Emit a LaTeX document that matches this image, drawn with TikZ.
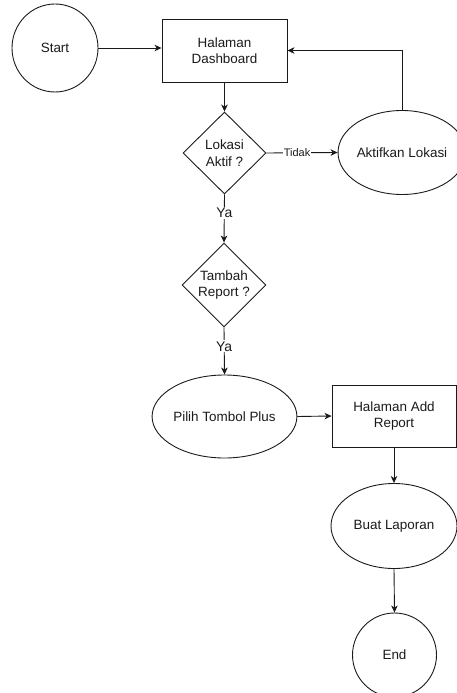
\documentclass[tikz,border=0pt]{standalone}
\usepackage{fontspec}
\setmainfont{Liberation Sans}
\usetikzlibrary{shapes.geometric,arrows.meta}

\definecolor{ink}{HTML}{1A1A1A}

\tikzset{
  base/.style={draw=ink, line width=0.9bp, text=ink, inner sep=0pt, align=center,
    font=\fontsize{13.5}{16.5}\selectfont},
  roundbox/.style={base, ellipse},
  pagebox/.style={base, rectangle},
  choice/.style={base, diamond},
  flow/.style={draw=ink, line width=0.9bp, -{Stealth[length=7bp,width=6.5bp,inset=2bp]}},
  edgetext/.style={fill=white, inner sep=1bp, text=ink},
}

\begin{document}
\begin{tikzpicture}[x=1bp,y=-1bp]
\useasboundingbox (0,0) rectangle (457,693);
\clip (0,0) rectangle (457,693);

% process nodes
\node[roundbox, minimum width=86bp, minimum height=88bp] (start) at (55,48) {Start};
\node[pagebox, minimum width=125bp, minimum height=63bp] (dash) at (224.5,50.5) {Halaman\\Dashboard};
\node[choice, minimum width=83bp, minimum height=82bp] (lokasi) at (224.5,153) {Lokasi\\Aktif ?};
\node[roundbox, minimum width=122bp, minimum height=84bp] (aktif) at (402,152.5) {Aktifkan Lokasi};
\node[choice, minimum width=84bp, minimum height=84bp] (tambah) at (224,285) {Tambah\\Report ?};
\node[roundbox, minimum width=125bp, minimum height=83bp] (pilih) at (224.5,416.5) {Pilih Tombol Plus};
\node[pagebox, minimum width=124bp, minimum height=62bp] (addrep) at (394,416) {Halaman Add\\Report};
\node[roundbox, minimum width=126bp, minimum height=85bp] (buat) at (394,526) {Buat Laporan};
\node[roundbox, minimum width=84bp, minimum height=84bp] (end) at (394.5,655) {End};

% connectors
\draw[flow] (start.east) -- (start.east -| dash.west);
\draw[flow] (dash.south) -- (lokasi.north);
\draw[flow] (lokasi.east) -- node[edgetext, pos=0.43, font=\fontsize{11}{13}\selectfont] {Tidak} (aktif.west);
\draw[flow] (aktif.north) |- (dash.east);
\draw[flow] (lokasi.south) -- node[edgetext, pos=0.38, font=\fontsize{14}{16}\selectfont] {Ya} (tambah.north);
\draw[flow] (tambah.south) -- node[edgetext, pos=0.4, font=\fontsize{14}{16}\selectfont] {Ya} (pilih.north);
\draw[flow] (pilih.east) -- (addrep.west);
\draw[flow] (addrep.south) -- (buat.north);
\draw[flow] (buat.south) -- (end.north);
\end{tikzpicture}
\end{document}
